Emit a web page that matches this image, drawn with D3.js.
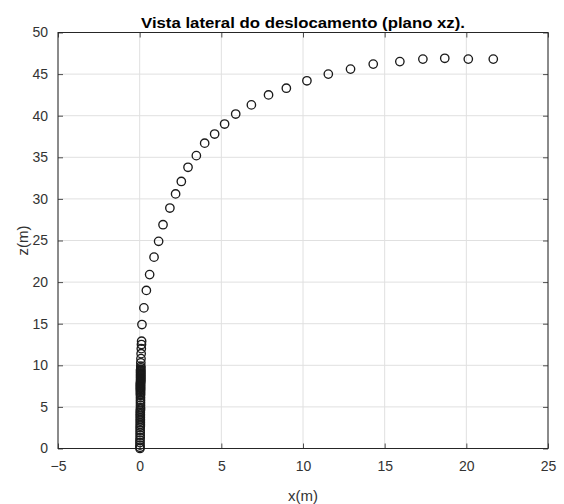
<!DOCTYPE html>
<html>
<head>
<meta charset="utf-8">
<script src="https://cdn.jsdelivr.net/npm/d3@7"></script>
<style>
  html, body { margin: 0; padding: 0; background: #ffffff; }
  svg { display: block; }
  text { font-family: "Liberation Sans", Arial, Helvetica, sans-serif; }
</style>
</head>
<body>
<svg id="chart" width="564" height="504"></svg>
<script>
// Horizontal (x) and vertical (z) position of each sample, in metres
const xValues = [
  0.02, 0.02, 0.02, 0.02, 0.02, 0.03, 0.03, 0.03, 0.03, 0.03,
  0.04, 0.04, 0.04, 0.04, 0.04, 0.04, 0.04, 0.04, 0.04, 0.04,
  0.05, 0.05, 0.05, 0.05, 0.05, 0.05, 0.05, 0.05, 0.05, 0.05,
  0.05, 0.05, 0.05, 0.05, 0.05, 0.05, 0.05, 0.05, 0.05, 0.05,
  0.06, 0.06, 0.06, 0.06, 0.06, 0.06, 0.06, 0.06, 0.06, 0.06,
  0.06, 0.06, 0.06, 0.06, 0.06, 0.06, 0.07, 0.07, 0.07, 0.08,
  0.09, 0.10, 0.11, 0.12,
  0.14, 0.26,
  0.41, 0.61, 0.88, 1.16, 1.43, 1.85, 2.20, 2.55, 2.96, 3.47,
  3.98, 4.59, 5.20, 5.88, 6.84, 7.89, 8.98, 10.24, 11.55, 12.91,
  14.30, 15.93, 17.34, 18.68, 20.12, 21.65
];
const zValues = [
  0.00, 0.15, 0.40, 0.70, 1.00, 1.30, 1.60, 1.90, 2.20, 2.50,
  2.70, 2.90, 3.10, 3.30, 3.50, 3.70, 3.90, 4.10, 4.30, 4.50,
  4.70, 4.90, 5.20, 5.50, 5.80, 6.10, 6.40, 6.55, 6.70, 6.85,
  7.00, 7.10, 7.20, 7.30, 7.40, 7.50, 7.60, 7.70, 7.80, 7.90,
  8.00, 8.10, 8.20, 8.30, 8.40, 8.50, 8.60, 8.70, 8.80, 8.90,
  9.00, 9.10, 9.20, 9.30, 9.40, 9.50, 9.70, 9.90, 10.30, 10.80,
  11.40, 12.00, 12.50, 12.90,
  14.90, 16.90,
  19.0, 20.9, 23.0, 24.9, 26.9, 28.9, 30.6, 32.1, 33.8, 35.2,
  36.7, 37.8, 39.0, 40.2, 41.3, 42.5, 43.3, 44.2, 45.0, 45.6,
  46.2, 46.5, 46.8, 46.9, 46.8, 46.8
];

const xTicks = [-5, 0, 5, 10, 15, 20, 25];
const zTicks = [0, 5, 10, 15, 20, 25, 30, 35, 40, 45, 50];

const titleText = "Vista lateral do deslocamento (plano xz).";
const xLabelText = "x(m)";
const zLabelText = "z(m)";

const points = xValues.map((x, i) => ({ x: x, z: zValues[i] }));

const margin = { left: 58, right: 16, top: 32.5, bottom: 55.5 };
const width = 564, height = 504;
const plotW = width - margin.left - margin.right;
const plotH = height - margin.top - margin.bottom;

const svg = d3.select("#chart");
const g = svg.append("g").attr("transform", `translate(${margin.left},${margin.top})`);

const x = d3.scaleLinear().domain([-5, 25]).range([0, plotW]);
const z = d3.scaleLinear().domain([0, 50]).range([plotH, 0]);

const axisColor = "#262626";
const gridColor = "#e0e0e0";

// Grid lines
g.append("g").selectAll("line").data(xTicks).join("line")
  .attr("x1", d => x(d)).attr("x2", d => x(d))
  .attr("y1", 0).attr("y2", plotH)
  .attr("stroke", gridColor).attr("stroke-width", 1);
g.append("g").selectAll("line").data(zTicks).join("line")
  .attr("x1", 0).attr("x2", plotW)
  .attr("y1", d => z(d)).attr("y2", d => z(d))
  .attr("stroke", gridColor).attr("stroke-width", 1);

// Axes with ticks pointing inward, plus mirrored ticks on top and right
const tickLen = 5;
function styleAxis(sel) {
  sel.selectAll(".domain").remove();
  sel.selectAll(".tick line").attr("stroke", axisColor).attr("stroke-width", 0.8);
  sel.selectAll(".tick text")
    .attr("fill", "#333333")
    .style("font-size", "14px");
}

g.append("g")
  .attr("transform", `translate(0,${plotH})`)
  .call(d3.axisBottom(x).tickValues(xTicks).tickSizeInner(-tickLen).tickSizeOuter(0).tickPadding(13).tickFormat(d3.format("d")))
  .call(styleAxis);
g.append("g")
  .call(d3.axisTop(x).tickValues(xTicks).tickSizeInner(-tickLen).tickSizeOuter(0).tickFormat(""))
  .call(styleAxis);
g.append("g")
  .call(d3.axisLeft(z).tickValues(zTicks).tickSizeInner(-tickLen).tickSizeOuter(0).tickPadding(10).tickFormat(d3.format("d")))
  .call(styleAxis);
g.append("g")
  .attr("transform", `translate(${plotW},0)`)
  .call(d3.axisRight(z).tickValues(zTicks).tickSizeInner(-tickLen).tickSizeOuter(0).tickFormat(""))
  .call(styleAxis);

// Box around the plot area
g.append("rect")
  .attr("x", 0).attr("y", 0).attr("width", plotW).attr("height", plotH)
  .attr("fill", "none").attr("stroke", axisColor).attr("stroke-width", 1);

// Open circle markers
g.append("g").selectAll("circle").data(points).join("circle")
  .attr("cx", d => x(d.x))
  .attr("cy", d => z(d.z))
  .attr("r", 4.2)
  .attr("fill", "none")
  .attr("stroke", "#1a1a1a")
  .attr("stroke-width", 1.35);

// Title and axis labels
svg.append("text")
  .attr("x", margin.left + plotW / 2)
  .attr("y", 28)
  .attr("text-anchor", "middle")
  .attr("fill", "#000")
  .attr("textLength", 324)
  .attr("lengthAdjust", "spacingAndGlyphs")
  .style("font-size", "15.5px")
  .style("font-weight", "bold")
  .text(titleText);

svg.append("text")
  .attr("x", margin.left + plotW / 2)
  .attr("y", 501)
  .attr("text-anchor", "middle")
  .attr("fill", "#333333")
  .style("font-size", "15px")
  .text(xLabelText);

svg.append("text")
  .attr("transform", `translate(28,${margin.top + plotH / 2}) rotate(-90)`)
  .attr("text-anchor", "middle")
  .attr("fill", "#333333")
  .style("font-size", "15px")
  .text(zLabelText);
</script>
</body>
</html>
